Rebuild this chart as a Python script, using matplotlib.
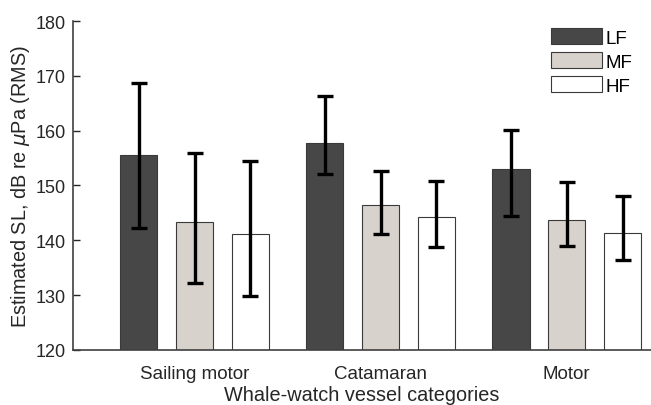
import numpy as np
import matplotlib
matplotlib.use("Agg")
import matplotlib.pyplot as plt

plt.rcParams['font.family'] = ['Liberation Sans', 'DejaVu Sans']

# vessel categories and band labels
categories = ["Sailing motor", "Catamaran", "Motor"]
bands = ["LF", "MF", "HF"]

# mean estimated source levels (dB re uPa RMS), one list per band
lf_mean = [155.5, 157.7, 153.0]
mf_mean = [143.3, 146.5, 143.7]
hf_mean = [141.1, 144.2, 141.4]

# error bar ends
lf_low = [142.2, 152.1, 144.4]
lf_high = [168.7, 166.4, 160.2]
mf_low = [132.2, 141.1, 138.9]
mf_high = [156.0, 152.7, 150.6]
hf_low = [129.9, 138.7, 136.5]
hf_high = [154.4, 150.9, 148.1]

means = [lf_mean, mf_mean, hf_mean]
lows = [lf_low, mf_low, hf_low]
highs = [lf_high, mf_high, hf_high]
colors = ["#474747", "#d8d2cc", "#ffffff"]

fig = plt.figure(figsize=(6.51, 4.06), dpi=100)
ax = fig.add_axes([0.112, 0.1355, 0.888, 0.8103])

x = np.arange(1, len(categories) + 1)
offsets = [-0.3, 0.0, 0.3]
width = 0.2

for i in range(3):
    m = np.array(means[i])
    lo = m - np.array(lows[i])
    hi = np.array(highs[i]) - m
    ax.bar(x + offsets[i], m - 120, width, bottom=120, color=colors[i],
           edgecolor="#3a3a3a", linewidth=0.8, label=bands[i], zorder=2)
    ax.errorbar(x + offsets[i], m, yerr=[lo, hi], fmt="none", ecolor="black",
                elinewidth=2.4, capsize=5.5, capthick=2.4, zorder=3)

ax.set_xlim(0.346, 3.453)
ax.set_ylim(120, 180)
ax.set_yticks(np.arange(120, 181, 10))
ax.set_xticks(x)
ax.set_xticklabels(categories)
ax.tick_params(axis="y", direction="in", labelsize=13, colors="#262626",
               length=5, width=1, pad=5)
ax.tick_params(axis="x", direction="in", labelsize=13.5, colors="#262626",
               length=0, pad=11)

for s in ["top", "right"]:
    ax.spines[s].set_visible(False)
for s in ["left", "bottom"]:
    ax.spines[s].set_color("#404040")
    ax.spines[s].set_linewidth(1.2)

ax.set_ylabel(r"Estimated SL, dB re $\mu$Pa (RMS)", fontsize=14.3, color="#262626",
              labelpad=3)
ax.set_xlabel("Whale-watch vessel categories", fontsize=14.3, color="#262626",
              labelpad=2)

leg = ax.legend(loc="upper left", bbox_to_anchor=(0.8464, 0.9286),
                bbox_transform=fig.transFigure, frameon=False, fontsize=13.5,
                handlelength=2.7, handleheight=0.95, handletextpad=0.2,
                labelspacing=0.3, borderpad=0, borderaxespad=0)

fig.savefig("out.png", dpi=100)
